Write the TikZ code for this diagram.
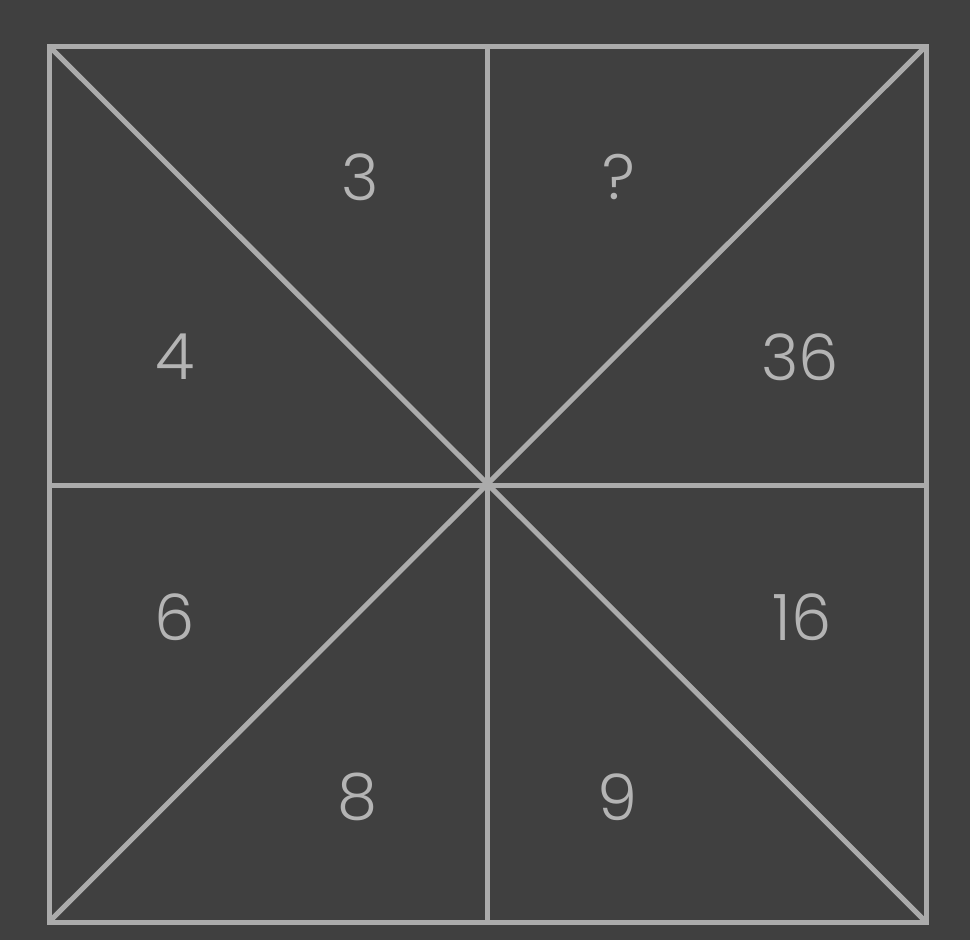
\documentclass[tikz,border=0pt]{standalone}
\usepackage{fontspec}
\setmainfont{Poppins}[UprightFont=* Light]
\usepackage{tikz}
\definecolor{board}{HTML}{404040}
\definecolor{chalk}{HTML}{ABABAB}
\definecolor{digit}{HTML}{B4B4B4}

\begin{document}
\begin{tikzpicture}[
        x=1pt, y=-1pt,
        gridline/.style={draw=chalk, line width=5pt},
        numnode/.style={text=digit, font=\fontsize{64}{68}\selectfont, inner sep=0pt}
        ]
        \fill[board] (0,0) rectangle (970,940);
        \useasboundingbox (0,0) rectangle (970,940);
        \coordinate (tl) at (49,46);
        \coordinate (tr) at (926,46);
        \coordinate (br) at (926,922);
        \coordinate (bl) at (49,922);
        \coordinate (c)  at (487,485);
        \coordinate (tm) at (487,46);
        \coordinate (bm) at (487,922);
        \coordinate (lm) at (49,485);
        \coordinate (rm) at (926,485);
        \draw[gridline] (tl) -- (tr) -- (br) -- (bl) -- cycle;
        \draw[gridline] (tl) -- (br);
        \draw[gridline] (bl) -- (tr);
        \draw[gridline] (tm) -- (bm);
        \draw[gridline] (lm) -- (rm);
        \node[numnode] (n_3)  at (360,177) {3};
        \node[numnode] (n_q)  at (619,177) {?};
        \node[numnode] (n_4)  at (175,357) {4};
        \node[numnode] (n_36) at (800,357) {36};
        \node[numnode] (n_6)  at (175,617) {6};
        \node[numnode] (n_16) at (802,617) {16};
        \node[numnode] (n_8)  at (357,797) {8};
        \node[numnode] (n_9)  at (617,797) {9};
\end{tikzpicture}
\end{document}
